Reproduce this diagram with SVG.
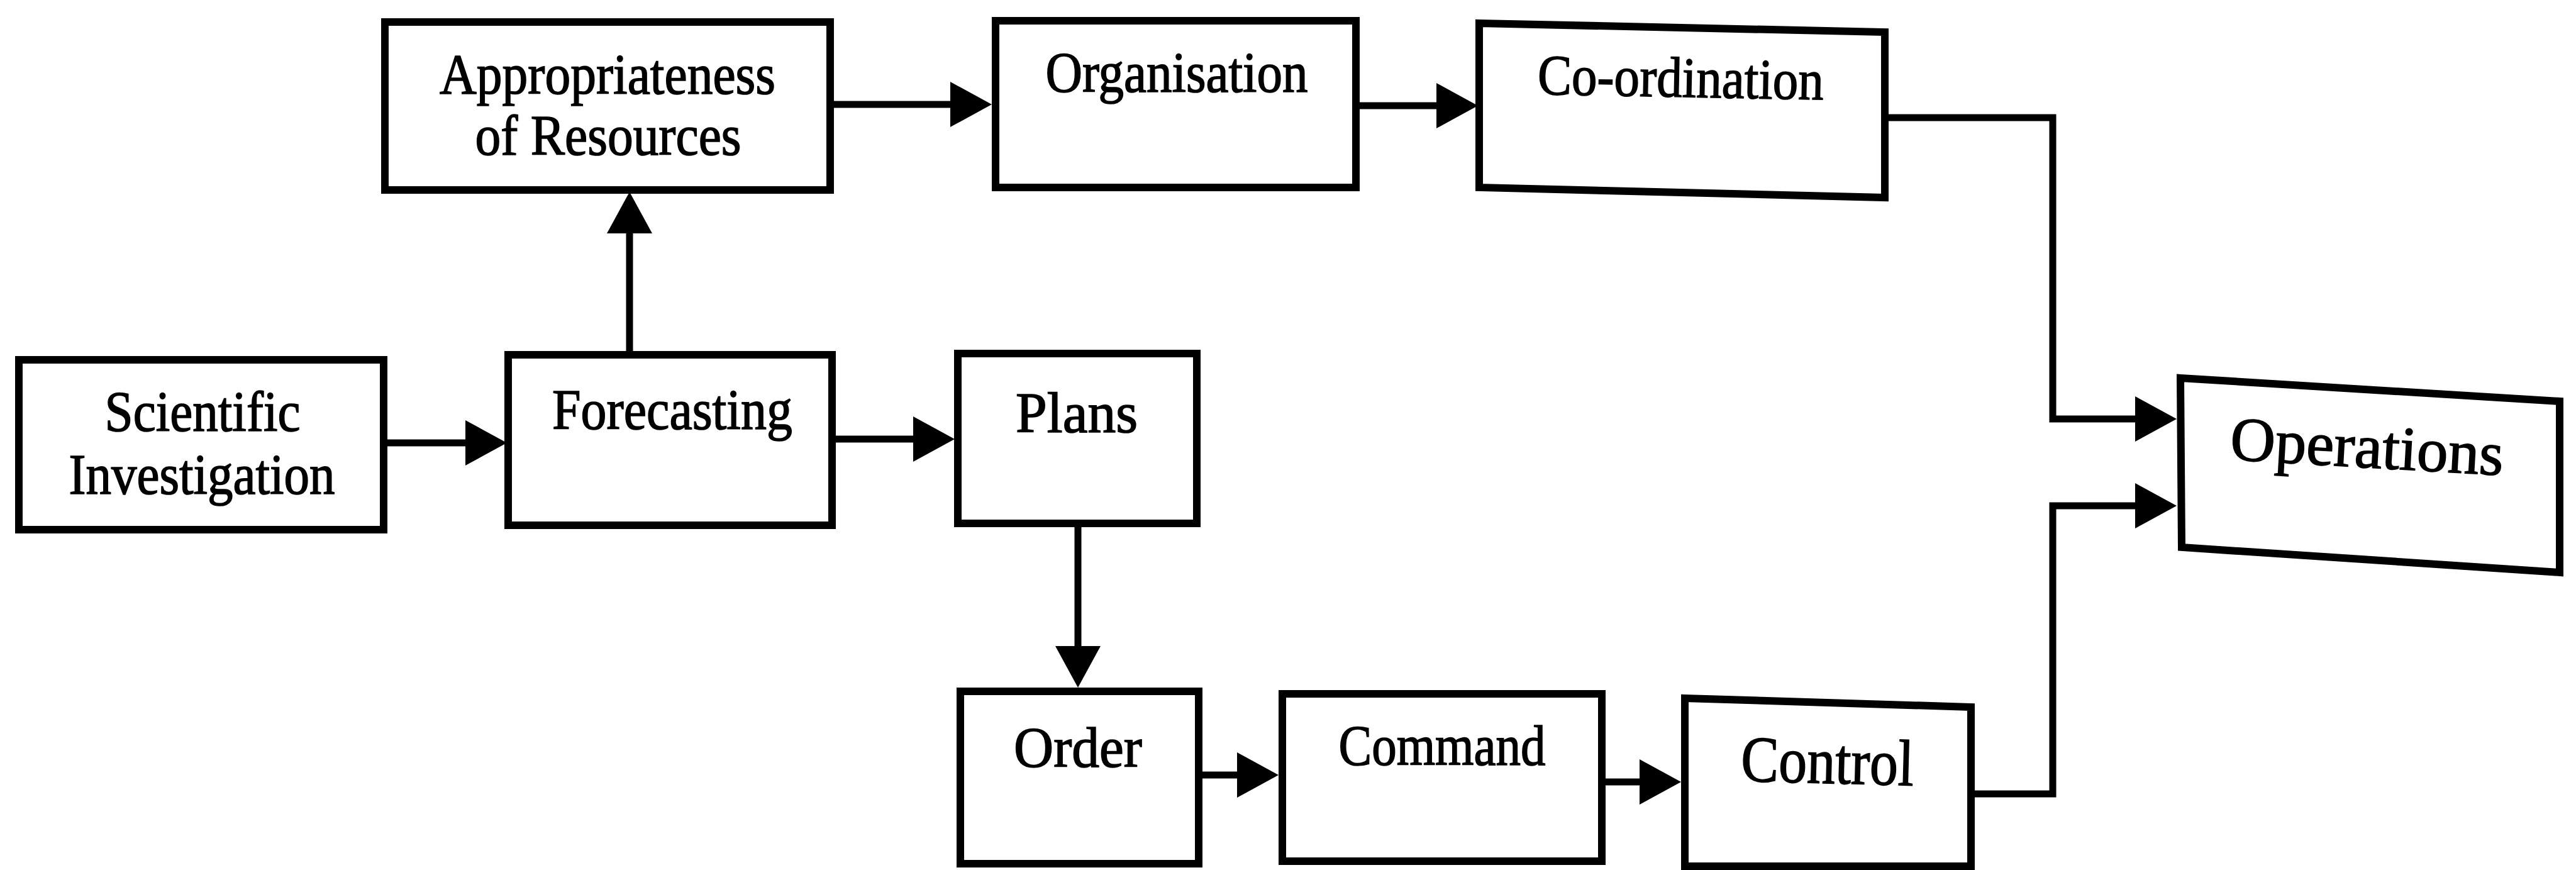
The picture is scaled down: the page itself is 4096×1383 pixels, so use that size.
<svg xmlns="http://www.w3.org/2000/svg" width="4096" height="1383" viewBox="0 0 4096 1383">
<style>
.box{fill:#fff;stroke:#000;stroke-width:12;stroke-linejoin:miter}
.lbl{font-family:"Liberation Serif","Times New Roman",serif;font-size:91px;fill:#000;stroke:#000;stroke-width:1.6;text-anchor:middle}
.con{fill:none;stroke:#000;stroke-width:11;stroke-linejoin:miter;marker-end:url(#ah)}
</style>
<defs>
<marker id="ah" markerUnits="userSpaceOnUse" viewBox="0 0 66 72" markerWidth="66" markerHeight="72" refX="1" refY="36" orient="auto">
<path d="M0,0 L66,36 L0,72 Z" fill="#000"/>
</marker>
</defs>
<rect width="4096" height="1383" fill="#fff"/>
<g id="connectors">
<path class="con" d="M616 704 H741"/>
<path class="con" d="M1001 561 V370"/>
<path class="con" d="M1326 166 H1512"/>
<path class="con" d="M2161 168 H2285"/>
<path class="con" d="M1329 698 H1453"/>
<path class="con" d="M1714 838 V1028"/>
<path class="con" d="M1912 1232 H1968"/>
<path class="con" d="M2553 1243 H2608"/>
<path class="con" d="M3003 187 H3264 V666 H3396"/>
<path class="con" d="M3140 1262 H3264 V804 H3396"/>
</g>
<g id="node-scientific-investigation">
<rect class="box" x="30" y="572" width="580" height="270"/>
<text class="lbl" x="322" y="685" textLength="311" lengthAdjust="spacingAndGlyphs">Scientific</text>
<text class="lbl" x="321" y="785" textLength="423" lengthAdjust="spacingAndGlyphs">Investigation</text>
</g>
<g id="node-forecasting">
<rect class="box" x="808" y="564" width="515" height="271"/>
<text class="lbl" x="1069" y="682" textLength="382" lengthAdjust="spacingAndGlyphs">Forecasting</text>
</g>
<g id="node-appropriateness">
<rect class="box" x="612" y="35" width="708" height="267"/>
<text class="lbl" x="966" y="149" textLength="534" lengthAdjust="spacingAndGlyphs">Appropriateness</text>
<text class="lbl" x="967" y="246" textLength="423" lengthAdjust="spacingAndGlyphs">of Resources</text>
</g>
<g id="node-organisation">
<rect class="box" x="1583" y="33" width="573" height="265"/>
<text class="lbl" x="1871" y="146" textLength="417" lengthAdjust="spacingAndGlyphs">Organisation</text>
</g>
<g id="node-coordination">
<polygon class="box" points="2352,37 2997,51 2997,314 2352,298"/>
<text class="lbl" x="2672" y="154" textLength="455" lengthAdjust="spacingAndGlyphs" transform="rotate(1.1 2672 150)">Co-ordination</text>
</g>
<g id="node-plans">
<rect class="box" x="1523" y="562" width="380" height="270"/>
<text class="lbl" x="1712" y="687" textLength="194" lengthAdjust="spacingAndGlyphs">Plans</text>
</g>
<g id="node-order">
<rect class="box" x="1527" y="1099" width="379" height="274"/>
<text class="lbl" x="1714" y="1219" textLength="204" lengthAdjust="spacingAndGlyphs">Order</text>
</g>
<g id="node-command">
<rect class="box" x="2039" y="1103" width="508" height="266"/>
<text class="lbl" x="2293" y="1216" textLength="329" lengthAdjust="spacingAndGlyphs">Command</text>
</g>
<g id="node-control">
<polygon class="box" points="2679,1110 3134,1124 3134,1377 2679,1377"/>
<text class="lbl" x="2905" y="1245" style="font-size:104px" textLength="275" lengthAdjust="spacingAndGlyphs" transform="rotate(1.5 2905 1240)">Control</text>
</g>
<g id="node-operations">
<polygon class="box" points="3467,601 4070,638 4070,910 3469,870"/>
<text class="lbl" x="3762" y="743" style="font-size:99px" textLength="435" lengthAdjust="spacingAndGlyphs" transform="rotate(3.3 3762 740)">Operations</text>
</g>
</svg>
